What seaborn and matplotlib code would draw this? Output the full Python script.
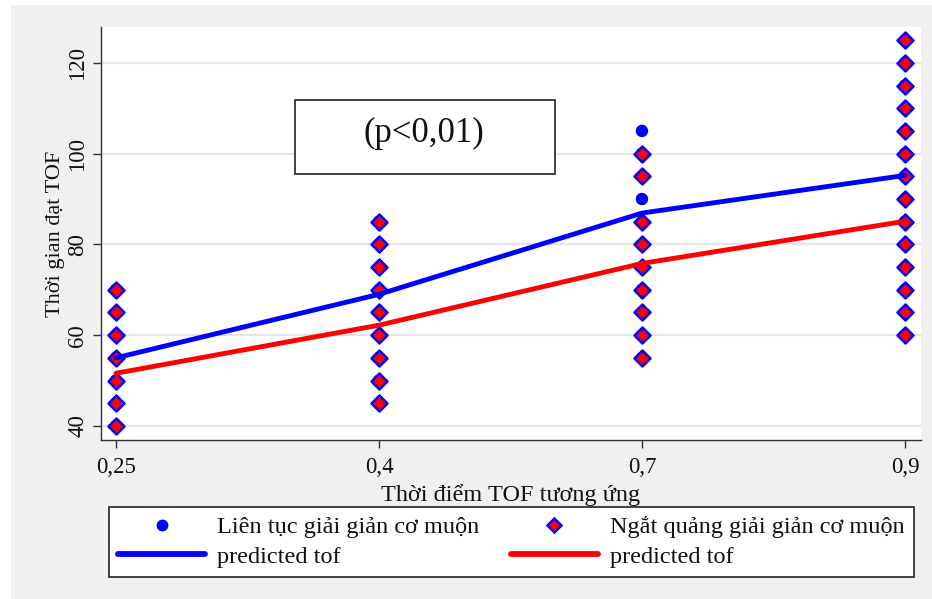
import matplotlib
matplotlib.use("Agg")
import matplotlib.pyplot as plt
from matplotlib.lines import Line2D
from matplotlib.patches import Rectangle
import pandas as pd
import seaborn as sns

# TOF moments (categorical x axis)
tof_moments = ["0,25", "0,4", "0,7", "0,9"]

# Observed TOF times, continuous late reversal group
cont_025 = [40, 45, 50, 55, 60, 65, 70]
cont_04 = [45, 50, 55, 60, 65, 70, 75, 80, 85]
cont_07 = [55, 60, 65, 70, 75, 80, 85, 90, 95, 100, 105]
cont_09 = [60, 65, 70, 75, 80, 85, 90, 95, 100, 105, 110, 115, 120, 125]

# Observed TOF times, intermittent late reversal group
inter_025 = [40, 45, 50, 55, 60, 65, 70]
inter_04 = [45, 50, 55, 60, 65, 70, 75, 80, 85]
inter_07 = [55, 60, 65, 70, 75, 80, 85, 95, 100]
inter_09 = [60, 65, 70, 75, 80, 85, 90, 95, 100, 105, 110, 115, 120, 125]

# Predicted TOF per moment
pred_cont = [55.0, 69.0, 86.9, 95.2]
pred_inter = [51.6, 62.2, 75.8, 85.1]

y_ticks = [40, 60, 80, 100, 120]

label_cont = "Liên tục giải giản cơ muộn"
label_inter = "Ngắt quảng giải giản cơ muộn"
label_pred = "predicted tof"
p_text = "(p<0,01)"


def long_frame(groups):
    rows = []
    for pos, vals in enumerate(groups):
        for v in vals:
            rows.append({"pos": pos, "tof": v})
    return pd.DataFrame(rows)


df_cont = long_frame([cont_025, cont_04, cont_07, cont_09])
df_inter = long_frame([inter_025, inter_04, inter_07, inter_09])
df_pred_cont = pd.DataFrame({"pos": range(len(pred_cont)), "tof": pred_cont})
df_pred_inter = pd.DataFrame({"pos": range(len(pred_inter)), "tof": pred_inter})

sns.set_theme(style="white")
plt.rcParams["font.family"] = ["Liberation Serif", "DejaVu Serif"]

W, H = 932, 599
fig = plt.figure(figsize=(W / 100, H / 100), dpi=100)
fig.patch.set_facecolor("white")
# light gray backdrop behind the whole graph
fig.patches.append(Rectangle((11 / W, 0), 1, 1 - 5 / H, transform=fig.transFigure,
                             facecolor="#f0f0f0", edgecolor="none", zorder=-10))

ax = fig.add_axes([101 / W, 1 - 440 / H, 820 / W, 413 / H])
ax.set_facecolor("white")

sns.scatterplot(data=df_cont, x="pos", y="tof", ax=ax, color="#0000ff", marker="o",
                s=80, edgecolor="none", linewidth=0, zorder=3, legend=False)
sns.scatterplot(data=df_inter, x="pos", y="tof", ax=ax, color="#ff0000", marker="D",
                s=66, edgecolor="#0000ff", linewidth=1.8, zorder=4, legend=False)
sns.lineplot(data=df_pred_cont, x="pos", y="tof", ax=ax, color="#0000ff", linewidth=3.5,
             zorder=5, legend=False, solid_capstyle="round")
sns.lineplot(data=df_pred_inter, x="pos", y="tof", ax=ax, color="#ff0000", linewidth=3.5,
             zorder=5, legend=False, solid_capstyle="round")

ax.set_xlim(-0.057, 3.061)
ax.set_ylim(36.9, 127.9)
ax.set_xticks(range(len(tof_moments)))
ax.set_xticklabels(tof_moments)
ax.set_yticks(y_ticks)
ax.set_yticklabels([str(v) for v in y_ticks], rotation=90, va="center")

ax.grid(axis="y", color="#e4e4e4", linewidth=1.5)
ax.grid(axis="x", visible=False)
ax.set_axisbelow(True)
for side in ["top", "right"]:
    ax.spines[side].set_visible(False)
for side in ["left", "bottom"]:
    ax.spines[side].set_color("#333333")
    ax.spines[side].set_linewidth(1.0)

ax.tick_params(axis="both", which="major", direction="out", length=6, width=1.0,
               color="#333333", labelsize=16.5, labelcolor="#111111",
               left=True, bottom=True)
ax.tick_params(axis="x", pad=6.5)
ax.tick_params(axis="y", pad=3)

ax.set_xlabel("Thời điểm TOF tương ứng", fontsize=17.5, color="#111111", labelpad=4)
ax.set_ylabel("Thời gian đạt TOF", fontsize=16, color="#111111", labelpad=2)

# annotation box with the test result
fig.patches.append(Rectangle((295 / W, 1 - 174 / H), 260 / W, 74 / H,
                             transform=fig.transFigure, facecolor="white",
                             edgecolor="#222222", linewidth=1.2, zorder=10))
fig.text(424 / W, 1 - 133 / H, p_text, ha="center", va="center", fontsize=25,
         color="#111111", zorder=11)

handles = [
    Line2D([], [], color="#0000ff", marker="o", linestyle="none", markersize=8.5,
           markeredgewidth=0),
    Line2D([], [], color="#0000ff", linewidth=4.2, solid_capstyle="round"),
    Line2D([], [], color="#ff0000", marker="D", linestyle="none", markersize=7.5,
           markeredgecolor="#0000ff", markeredgewidth=1.8),
    Line2D([], [], color="#ff0000", linewidth=4.2, solid_capstyle="round"),
]
labels = [label_cont, label_pred, label_inter, label_pred]
leg = fig.legend(handles, labels, ncol=2, loc="upper left",
                 bbox_to_anchor=(109 / W, 1 - 507 / H),
                 fontsize=17.5, frameon=True, fancybox=False, framealpha=1,
                 handlelength=3.58, handletextpad=0.5, columnspacing=1.28,
                 labelspacing=0.3, borderpad=0.38, borderaxespad=0)
leg.get_frame().set_edgecolor("#222222")
leg.get_frame().set_linewidth(1.2)
leg.get_frame().set_facecolor("white")
for t in leg.get_texts():
    t.set_color("#111111")

fig.savefig("out.png", dpi=100)
